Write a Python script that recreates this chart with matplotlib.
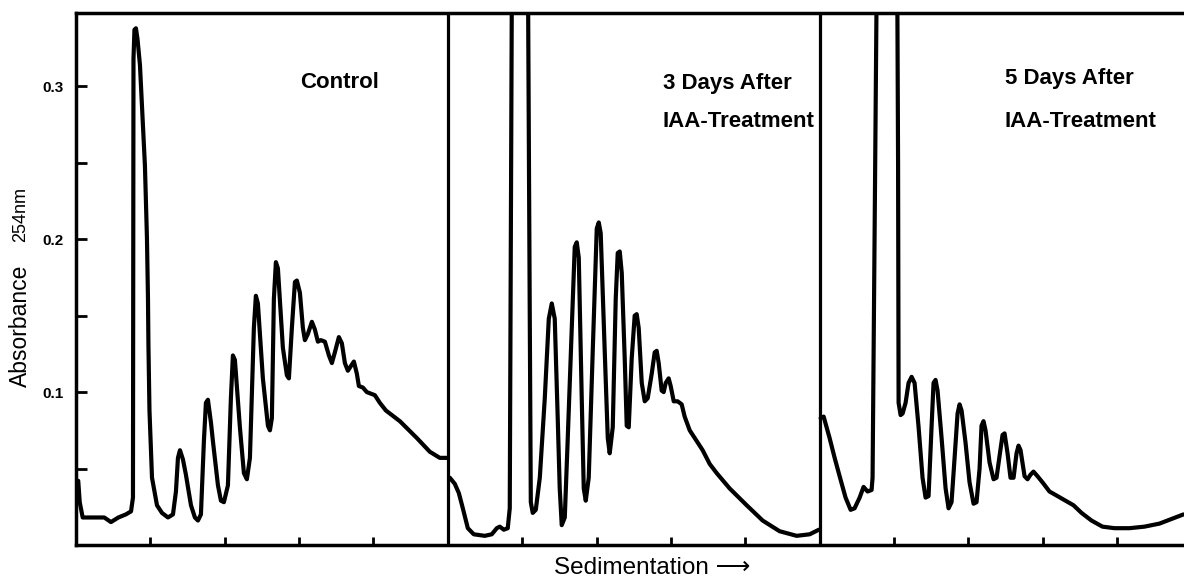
import numpy as np
import matplotlib.pyplot as plt

# sucrose gradient profiles, x = sedimentation (each panel 5 units), y = absorbance 254 nm
ctrl_x = [0.03, 0.05, 0.09, 0.27, 0.38, 0.47, 0.57, 0.67, 0.74, 0.766, 0.773, 0.786, 0.806,
          0.827, 0.86, 0.927, 0.954, 0.968, 0.974, 0.988, 1.022, 1.089, 1.156, 1.237, 1.304,
          1.344, 1.371, 1.398, 1.438, 1.478, 1.546, 1.599, 1.64, 1.68, 1.72, 1.747, 1.774,
          1.815, 1.841, 1.909, 1.949, 1.989, 2.043, 2.083, 2.11, 2.137, 2.204, 2.258, 2.298,
          2.339, 2.392, 2.419, 2.446, 2.513, 2.581, 2.608, 2.634, 2.661, 2.688, 2.715, 2.782,
          2.836, 2.863, 2.903, 2.944, 2.97, 3.011, 3.051, 3.078, 3.118, 3.172, 3.212, 3.253,
          3.293, 3.347, 3.401, 3.441, 3.481, 3.535, 3.575, 3.616, 3.656, 3.696, 3.737, 3.777,
          3.804, 3.858, 3.911, 3.965, 4.019, 4.086, 4.167, 4.355, 4.583, 4.758, 4.892, 4.99]
ctrl_y = [0.042, 0.028, 0.018, 0.018, 0.018, 0.015, 0.018, 0.020, 0.022, 0.031, 0.318, 0.337,
          0.338, 0.331, 0.314, 0.248, 0.201, 0.161, 0.131, 0.088, 0.044, 0.026, 0.021, 0.018,
          0.020, 0.035, 0.057, 0.062, 0.056, 0.046, 0.026, 0.018, 0.016, 0.020, 0.068, 0.093,
          0.095, 0.080, 0.068, 0.039, 0.029, 0.028, 0.039, 0.096, 0.124, 0.121, 0.077, 0.047,
          0.043, 0.057, 0.142, 0.163, 0.158, 0.109, 0.078, 0.075, 0.083, 0.161, 0.185, 0.181,
          0.129, 0.111, 0.109, 0.142, 0.172, 0.173, 0.165, 0.142, 0.134, 0.138, 0.146, 0.141,
          0.133, 0.134, 0.133, 0.124, 0.119, 0.126, 0.136, 0.132, 0.119, 0.114, 0.117, 0.120,
          0.112, 0.104, 0.103, 0.100, 0.099, 0.098, 0.093, 0.088, 0.081, 0.070, 0.061, 0.057,
          0.057]

d3_x = [5.027, 5.094, 5.148, 5.202, 5.269, 5.349, 5.497, 5.591, 5.659, 5.699, 5.753, 5.806,
        5.833, 5.864, 6.075, 6.102, 6.116, 6.142, 6.183, 6.237, 6.304, 6.358, 6.398, 6.438,
        6.478, 6.505, 6.532, 6.573, 6.613, 6.667, 6.707, 6.734, 6.761, 6.801, 6.828, 6.855,
        6.895, 6.949, 7.003, 7.03, 7.056, 7.11, 7.151, 7.177, 7.218, 7.258, 7.285, 7.312,
        7.339, 7.379, 7.406, 7.433, 7.473, 7.513, 7.54, 7.567, 7.608, 7.648, 7.688, 7.742,
        7.782, 7.809, 7.836, 7.876, 7.903, 7.93, 7.97, 7.997, 8.038, 8.091, 8.145, 8.185,
        8.253, 8.347, 8.427, 8.522, 8.616, 8.79, 9.019, 9.234, 9.462, 9.691, 9.866, 9.99]
d3_y = [0.044, 0.040, 0.034, 0.024, 0.011, 0.007, 0.006, 0.007, 0.011, 0.012, 0.010, 0.011,
        0.024, 0.40, 0.40, 0.15, 0.028, 0.021, 0.023, 0.044, 0.096, 0.148, 0.158, 0.148,
        0.083, 0.037, 0.013, 0.018, 0.070, 0.142, 0.195, 0.198, 0.188, 0.096, 0.037, 0.029,
        0.044, 0.127, 0.207, 0.211, 0.204, 0.127, 0.070, 0.060, 0.077, 0.161, 0.191, 0.192,
        0.178, 0.122, 0.078, 0.077, 0.122, 0.150, 0.151, 0.142, 0.106, 0.094, 0.096, 0.112,
        0.126, 0.127, 0.119, 0.101, 0.100, 0.106, 0.109, 0.104, 0.094, 0.094, 0.092, 0.084,
        0.075, 0.068, 0.062, 0.053, 0.047, 0.037, 0.026, 0.016, 0.009, 0.006, 0.007, 0.010]

d5_x = [10.013, 10.054, 10.134, 10.202, 10.269, 10.349, 10.417, 10.47, 10.538, 10.591, 10.645,
        10.699, 10.712, 10.773, 11.041, 11.055, 11.062, 11.089, 11.116, 11.156, 11.196, 11.237,
        11.277, 11.331, 11.384, 11.425, 11.465, 11.505, 11.532, 11.559, 11.586, 11.64, 11.694,
        11.734, 11.774, 11.815, 11.855, 11.882, 11.909, 11.962, 12.016, 12.07, 12.11, 12.151,
        12.177, 12.204, 12.231, 12.285, 12.339, 12.379, 12.419, 12.46, 12.487, 12.527, 12.567,
        12.608, 12.648, 12.675, 12.702, 12.756, 12.796, 12.836, 12.876, 12.93, 12.997, 13.091,
        13.199, 13.306, 13.414, 13.522, 13.656, 13.804, 13.965, 14.167, 14.368, 14.57, 14.731,
        14.892]
d5_y = [0.083, 0.084, 0.070, 0.057, 0.045, 0.031, 0.023, 0.024, 0.031, 0.038, 0.035, 0.036,
        0.044, 0.40, 0.40, 0.25, 0.093, 0.085, 0.086, 0.093, 0.106, 0.110, 0.106, 0.077,
        0.044, 0.031, 0.032, 0.077, 0.106, 0.108, 0.101, 0.070, 0.037, 0.024, 0.028, 0.057,
        0.086, 0.092, 0.088, 0.067, 0.041, 0.027, 0.028, 0.050, 0.078, 0.081, 0.075, 0.054,
        0.043, 0.044, 0.058, 0.072, 0.073, 0.060, 0.044, 0.044, 0.060, 0.065, 0.062, 0.045,
        0.043, 0.046, 0.048, 0.045, 0.041, 0.035, 0.032, 0.029, 0.026, 0.021, 0.016, 0.012,
        0.011, 0.011, 0.012, 0.014, 0.017, 0.020]

panel_titles = ["Control", "3 Days After\nIAA-Treatment", "5 Days After\nIAA-Treatment"]
title_xy = [(3.55, 0.3025), (7.89, 0.2895), (12.49, 0.291)]
title_spacing = [1.0, 2.05, 2.35]

txtfont = ["Liberation Sans Narrow", "Liberation Sans", "DejaVu Sans"]

fig = plt.figure(figsize=(11.84, 5.85), dpi=100)
ax = fig.add_axes([76/1184, 40/585, 1 - 76/1184, 532/585])

for xs, ys in [(ctrl_x, ctrl_y), (d3_x, d3_y), (d5_x, d5_y)]:
    ax.plot(xs, ys, color="black", lw=3.0, solid_joinstyle="round", solid_capstyle="round")

# panel dividers
for xv in [5, 10]:
    ax.axvline(xv, color="black", lw=2.3)

ax.set_xlim(0, 14.9)
ax.set_ylim(0, 0.348)

for s in ["left", "bottom", "top"]:
    ax.spines[s].set_linewidth(2.5)
ax.spines["right"].set_visible(False)

ax.set_xticks([1, 2, 3, 4, 6, 7, 8, 9, 11, 12, 13, 14])
ax.set_xticklabels([])
ax.tick_params(axis="x", direction="in", length=6, width=2)

ax.set_yticks([0.1, 0.2, 0.3])
ax.set_yticklabels(["0.1", "0.2", "0.3"], fontsize=11, fontweight="bold", family=txtfont)
ax.set_yticks([0.05, 0.15, 0.25], minor=True)
ax.tick_params(axis="y", which="both", direction="in", length=8, width=2, pad=9)

for t, (tx, ty), ls in zip(panel_titles, title_xy, title_spacing):
    ax.text(tx, ty, t, ha="left" if "\n" in t else "center", va="center", fontsize=16,
            family=txtfont, fontweight="bold", linespacing=ls)

fig.text(20/1184, 1 - 326/585, "Absorbance", rotation=90, ha="center", va="center",
         fontsize=16.5, family=txtfont)
fig.text(21/1184, 1 - 214/585, "254nm", rotation=90, ha="center", va="center",
         fontsize=13, family=txtfont)
fig.text(652/1184, 1 - 568/585, "Sedimentation \u27f6", ha="center", va="center",
         fontsize=17.5, family=txtfont)

fig.savefig("out.png", dpi=100)
